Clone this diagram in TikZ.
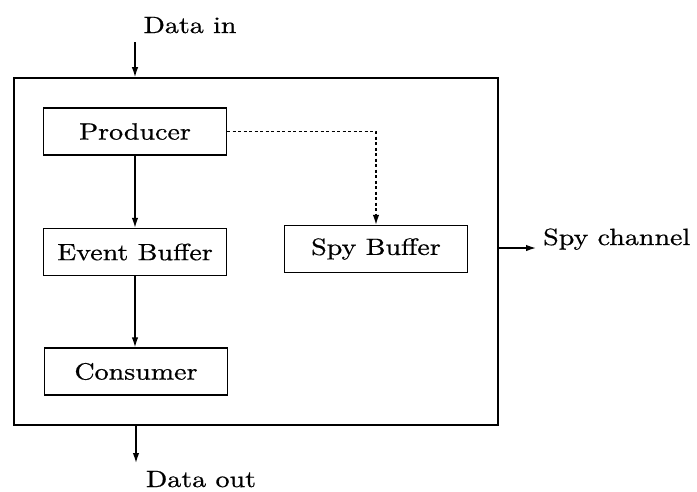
\documentclass[tikz,border=0pt]{standalone}
\usepackage{graphicx}
\usepackage{fontspec}
\usetikzlibrary{arrows.meta}
% slightly emboldened Latin Modern, a little widened
\newfontfamily\lblfont{Latin Modern Roman}[FakeBold=0.6]
\newcommand{\lbl}[1]{\scalebox{2.8}[2.35]{\fontsize{10}{12}\lblfont #1}}
\begin{document}
\begin{tikzpicture}[x=1pt,y=-1pt,
  box/.style={draw, line width=1.3pt, minimum width=183pt, minimum height=47pt, inner sep=0pt},
  arr/.style={line width=1.4pt, -{Latex[length=10pt,width=6.5pt]}},
  spyline/.style={line width=1.4pt, dash pattern=on 3pt off 2.5pt, -{Latex[length=10pt,width=6.5pt]}}]
\useasboundingbox (0,0) rectangle (697,491);
% enclosing system box
\node[draw, line width=1.6pt, minimum width=484pt, minimum height=347pt, inner sep=0pt] (sys) at (256,251.5) {};
% inner components
\node[box] (prod) at (135,131.5) {\lbl{Producer}};
\node[box] (evb) at (135,252) {\lbl{Event Buffer}};
\node[box] (cons) at (136,371.5) {\lbl{Consumer}};
\node[box] (spyb) at (376,249) {\lbl{Spy Buffer}};
% external labels
\node[anchor=base] (din) at (190,33) {\lbl{Data in}};
\node[anchor=base] (dout) at (201,487) {\lbl{Data out}};
\node[anchor=base west, inner sep=0pt] (spych) at (543,245) {\lbl{Spy channel}};
% connectors
\coordinate (inTop) at (135,42);
\draw[arr] (inTop) -- (inTop |- sys.north);
\draw[arr] (prod.south) -- (prod.south |- evb.north);
\draw[arr] (evb.south) -- (evb.south |- cons.north);
\draw[spyline] (prod.east) -| (spyb.north);
\coordinate (outEnd) at (136,463);
\draw[arr] (outEnd |- sys.south) -- (outEnd);
\coordinate (spyEnd) at (536,248);
\draw[arr] (spyEnd -| sys.east) -- (spyEnd);
\end{tikzpicture}
\end{document}
